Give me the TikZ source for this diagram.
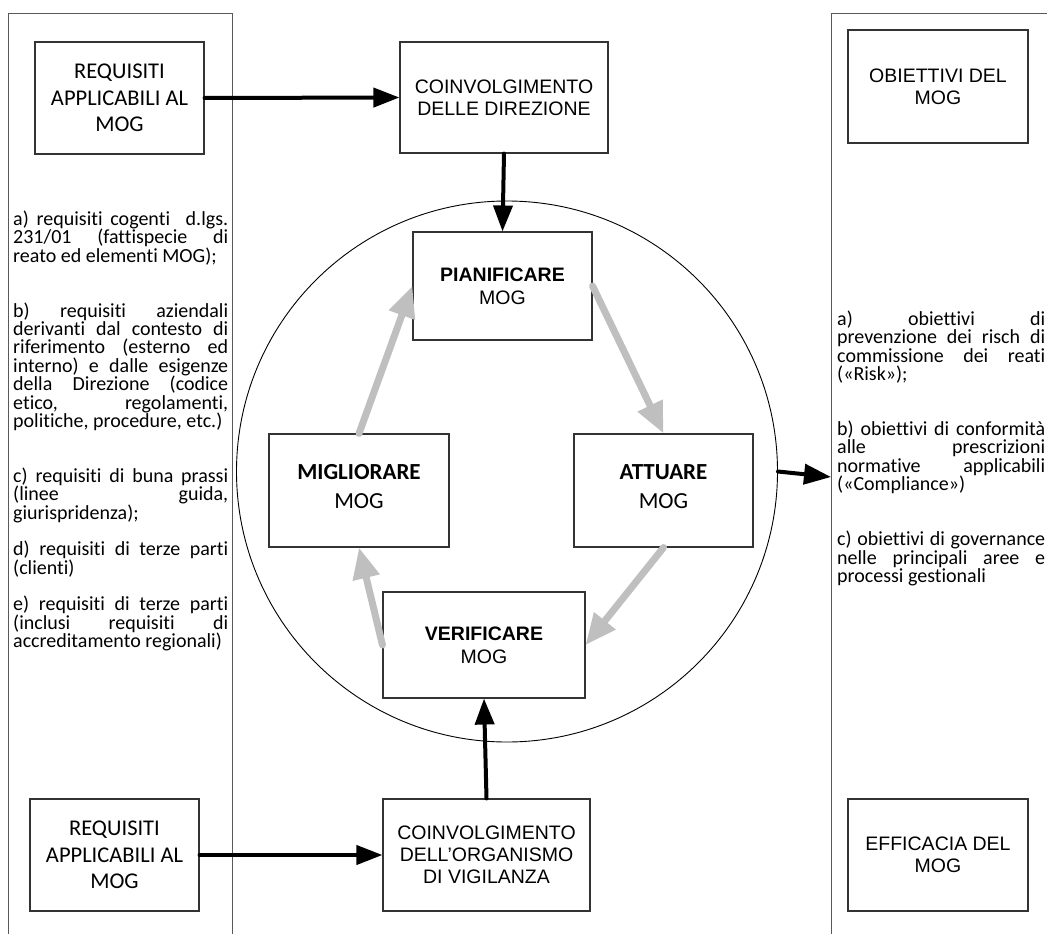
\documentclass[tikz,border=0pt]{standalone}
\usepackage{fontspec}
\setmainfont{Carlito}[Ligatures=NoCommon]
\newfontfamily\arialf{Liberation Sans}
\usetikzlibrary{arrows.meta}
\definecolor{cycgray}{RGB}{191,191,191}

\begin{document}
\begin{tikzpicture}[x=1pt, y=-1pt,
  panel/.style={draw=black!65, line width=1.3pt, rectangle, inner sep=0pt},
  box/.style={draw=black!80, line width=1.1pt, fill=white, rectangle, inner sep=0pt, align=center},
  reqbox/.style={box, minimum width=169pt, minimum height=112pt,
    font=\fontsize{22.5}{26.7}\selectfont},
  sansbox/.style={box, font=\arialf\fontsize{19.5}{22}\selectfont},
  stagebox/.style={box, minimum width=180pt, minimum height=113pt, text depth=8pt,
    font=\fontsize{23}{28.5}\selectfont},
  cyclering/.style={circle, draw=black, line width=0.9pt, minimum size=541pt, inner sep=0pt},
  blackarrow/.style={line width=4pt, line cap=round, -{Triangle[length=26pt,width=19pt]}},
  grayarrow/.style={draw=cycgray, line width=7pt, line cap=round,
    -{Triangle[length=31pt,width=26pt]}},
  body/.style={anchor=base west, inner sep=0pt, text width=215pt, align=justify,
    font=\fontsize{20}{18.35}\selectfont}
]
\useasboundingbox (0,0) rectangle (1047,934);

% side panels, running off the page
\begin{scope}
  \clip (0,0) rectangle (1047,934);
  \node[panel, minimum width=224pt, minimum height=980pt, anchor=north west] (lpanel) at (8,13) {};
  \node[panel, minimum width=300pt, minimum height=980pt, anchor=north west] (rpanel) at (831,13) {};
\end{scope}

% PDCA ring
\node[cyclering] (cyc) at (507,471.5) {};

% boxes
\node[reqbox] (req1) at (119.5,98) {REQUISITI\\APPLICABILI AL\\MOG};
\node[reqbox] (req2) at (114.5,855) {REQUISITI\\APPLICABILI AL\\MOG};
\node[sansbox, minimum width=208pt, minimum height=111pt] (dir) at (504,97.5) {COINVOLGIMENTO\\DELLE DIREZIONE};
\node[sansbox, minimum width=207pt, minimum height=112pt] (odv) at (486.5,855) {COINVOLGIMENTO\\DELL’ORGANISMO\\DI VIGILANZA};
\node[sansbox, minimum width=180pt, minimum height=113pt] (obj) at (938,86.5) {OBIETTIVI DEL\\MOG};
\node[sansbox, minimum width=180pt, minimum height=112pt] (eff) at (938,855) {EFFICACIA DEL\\MOG};
\node[sansbox, minimum width=179pt, minimum height=108pt, font=\arialf\fontsize{19.5}{23}\selectfont] (pian) at (502.5,286) {\textbf{PIANIFICARE}\\MOG};
\node[sansbox, minimum width=202pt, minimum height=106pt, font=\arialf\fontsize{19.5}{23}\selectfont] (veri) at (484,645) {\textbf{VERIFICARE}\\MOG};
\node[stagebox] (migl) at (359,490.5) {\textbf{MIGLIORARE}\\MOG};
\node[stagebox, minimum width=179pt] (attu) at (663.5,490.5) {\textbf{ATTUARE}\\MOG};

% input / output connectors
\coordinate (rhit) at (831,477);
\draw[blackarrow] (req1.east) -- (dir.west);
\draw[blackarrow] (dir.south) -- (pian.north);
\draw[blackarrow] (req2.east) -- (odv.west);
\draw[blackarrow] (odv.north) -- (veri.south);
\draw[blackarrow, -{Triangle[length=27pt,width=20pt]}] (cyc.east) -- (rhit);

% cycle
\draw[grayarrow] (pian.east) -- (attu.north);
\draw[grayarrow] (attu.south) -- (veri.east);
\draw[grayarrow] (veri.west) -- (migl.south);
\draw[grayarrow] (migl.north) -- (pian.west);

% requirement list
\node[body] (ltext) at (13,225.5) {\hyphenpenalty=10000 \tolerance=10000
a) requisiti cogenti\ \ d.lgs.\linebreak 231/01 (fattispecie di\linebreak reato ed elementi MOG);\par
\vspace{36.7pt}
b) requisiti aziendali\linebreak derivanti dal contesto di\linebreak riferimento (esterno ed\linebreak interno) e dalle esigenze\linebreak della Direzione (codice\linebreak etico, regolamenti,\linebreak politiche, procedure, etc.)\par
\vspace{36.7pt}
c) requisiti di buna prassi\linebreak (linee guida,\linebreak giurispridenza);\par
\vspace{18.35pt}
d) requisiti di terze parti\linebreak (clienti)\par
\vspace{18.35pt}
e) requisiti di terze parti\linebreak (inclusi requisiti di\linebreak accreditamento regionali)\par};

% objectives list
\node[body, text width=208pt] (rtext) at (837,325.5) {\hyphenpenalty=10000 \tolerance=10000
a) obiettivi di\linebreak prevenzione dei risch di\linebreak commissione dei reati\linebreak («Risk»);\par
\vspace{36.7pt}
b) obiettivi di conformità\linebreak alle prescrizioni\linebreak normative applicabili\linebreak («Compliance»)\par
\vspace{36.7pt}
c) obiettivi di governance\linebreak nelle principali aree e\linebreak processi gestionali\par};
\end{tikzpicture}
\end{document}
